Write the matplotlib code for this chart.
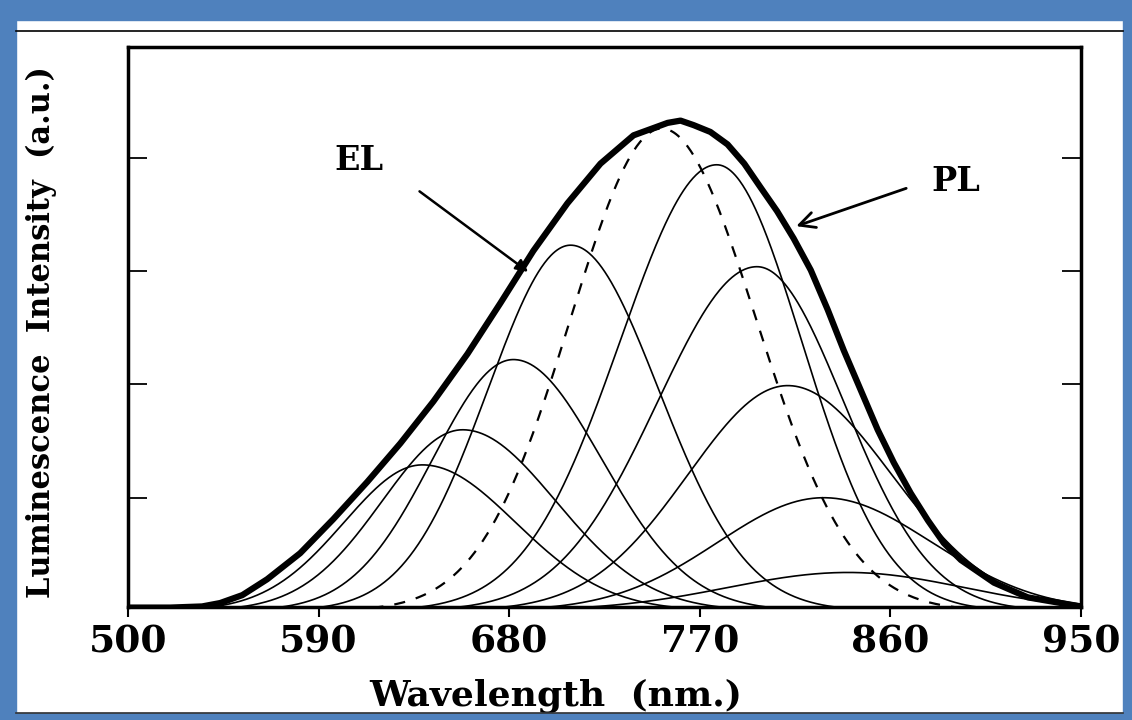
import numpy as np
import matplotlib.pyplot as plt
from matplotlib.patches import Rectangle
from matplotlib.lines import Line2D

pl_nm = [500, 520, 535, 543.5, 554, 565.7, 581.3, 596.9, 613.0, 628.6, 644.2, 660.3,
         675.9, 691.4, 707.5, 723.1, 738.7, 754.8, 760.9, 767.1, 775.0, 783.1, 791.0,
         798.7, 806.5, 814.3, 822.4, 830.4, 838.0, 846.0, 854.0, 861.6, 869.6, 877.7,
         885.2, 893.3, 908.9, 924.9, 940.5, 950]
pl_val = [0.03, 0.03, 0.04, 0.07, 0.14, 0.28, 0.51, 0.81, 1.14, 1.48, 1.85, 2.27,
          2.72, 3.18, 3.60, 3.95, 4.20, 4.31, 4.33, 4.29, 4.23, 4.12, 3.95,
          3.74, 3.53, 3.29, 3.01, 2.66, 2.30, 1.95, 1.60, 1.31, 1.04, 0.80,
          0.60, 0.45, 0.25, 0.12, 0.07, 0.04]

# thin component bands: peak position, peak height, left / right width (nm)
comp_peak = [639, 658, 682, 709, 778, 797, 811.5, 828.5, 840]
comp_height = [1.29, 1.60, 2.22, 3.23, 3.94, 3.04, 1.99, 1.00, 0.34]
comp_wl = [37, 38, 38, 39, 45.5, 47, 47, 50, 57]
comp_wr = [44, 44, 41.5, 41.5, 40, 41, 49, 51, 55]

# dashed band
dash_peak = 752
dash_height = 4.26
dash_wl = 43
dash_wr = 44.5

xticks = [500, 590, 680, 770, 860, 950]


def band(x, c, h, wl, wr):
    w = np.where(x < c, wl, wr)
    return h * np.exp(-0.5 * ((x - c) / w) ** 2)


x = np.linspace(500, 950, 900)
serif = 'DejaVu Serif'

fig = plt.figure(figsize=(11.32, 7.2), dpi=100)
ax = fig.add_axes([128 / 1132, 1 - 607 / 720, 953 / 1132, 560 / 720])

for c, h, wl, wr in zip(comp_peak, comp_height, comp_wl, comp_wr):
    ax.plot(x, band(x, c, h, wl, wr), color='black', lw=1.2)
ax.plot(x, band(x, dash_peak, dash_height, dash_wl, dash_wr), color='black',
        lw=1.6, ls=(0, (5, 5)))
ax.plot(pl_nm, pl_val, color='black', lw=4.5, solid_joinstyle='round')

ax.set_xlim(500, 950)
ax.set_ylim(0.035, 4.98)
ax.set_xticks(xticks)
ax.set_xticklabels([str(t) for t in xticks], family=serif,
                   fontweight='bold', fontsize=27)
ax.set_yticks([1, 2, 3, 4])
ax.set_yticklabels([])
ax.tick_params(axis='x', direction='out', length=7, width=1.5, pad=5)
ax.tick_params(axis='y', direction='in', length=14, width=1.3, left=True, right=True)
for s in ax.spines.values():
    s.set_linewidth(2.5)

ax.set_xlabel('Wavelength  (nm.)', family=serif, fontweight='bold', fontsize=26)
ax.xaxis.set_label_coords(0.449, -0.128)
ax.set_ylabel('Luminescence  Intensity  (a.u.)', family=serif,
              fontweight='bold', fontsize=22)
ax.yaxis.set_label_coords(-0.074, 0.491)

ax.text(609, 3.98, 'EL', family=serif, fontweight='bold', fontsize=24,
        ha='center', va='center')
ax.annotate('', xy=(690, 2.98), xytext=(636.6, 3.72),
            arrowprops=dict(arrowstyle='-|>', color='black', lw=1.8,
                            mutation_scale=18))
ax.text(891, 3.79, 'PL', family=serif, fontweight='bold', fontsize=24,
        ha='center', va='center')
ax.annotate('', xy=(814.3, 3.39), xytext=(868.7, 3.74),
            arrowprops=dict(arrowstyle='->', color='black', lw=2.0,
                            mutation_scale=28))

# blue page frame and rule line
blue = '#4F81BD'
fig.patches.append(Rectangle((0, 1 - 20 / 720), 1, 20 / 720, transform=fig.transFigure,
                             color=blue, zorder=0))
fig.patches.append(Rectangle((0, 0), 1, 7 / 720, transform=fig.transFigure,
                             color=blue, zorder=0))
fig.patches.append(Rectangle((0, 0), 16 / 1132, 1, transform=fig.transFigure,
                             color=blue, zorder=0))
fig.patches.append(Rectangle((1 - 9 / 1132, 0), 9 / 1132, 1, transform=fig.transFigure,
                             color=blue, zorder=0))
fig.lines.append(Line2D([16 / 1132, 1 - 9 / 1132], [1 - 31 / 720, 1 - 31 / 720],
                        transform=fig.transFigure, color='black', lw=1.2))
fig.lines.append(Line2D([16 / 1132, 1 - 9 / 1132], [7.5 / 720, 7.5 / 720],
                        transform=fig.transFigure, color='#333333', lw=1.2))

fig.savefig('out.png', dpi=100)
